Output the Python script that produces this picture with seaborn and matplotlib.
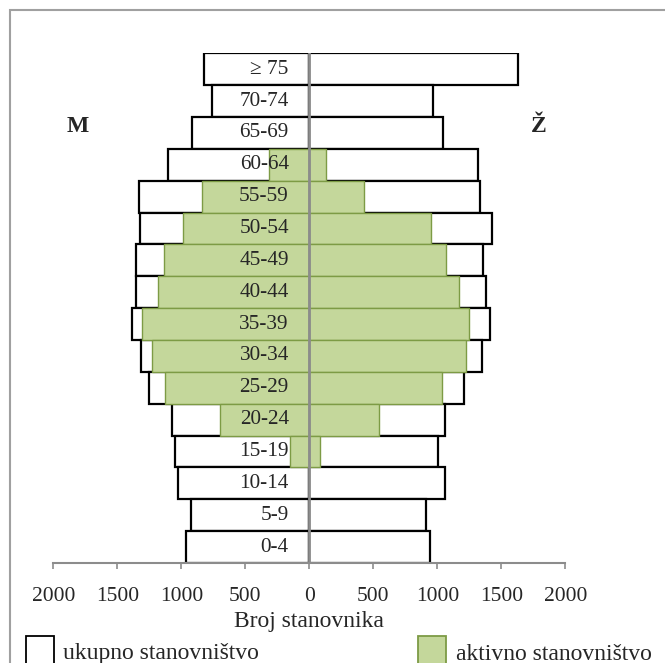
import numpy as np
import pandas as pd
import seaborn as sns
import matplotlib.pyplot as plt
from matplotlib.patches import Rectangle

# age groups, top to bottom
ages = ["\u2265 75", "70-74", "65-69", "60-64", "55-59", "50-54", "45-49", "40-44",
        "35-39", "30-34", "25-29", "20-24", "15-19", "10-14", "5-9", "0-4"]

# total population (ukupno)
male_total = [822, 757, 920, 1107, 1330, 1320, 1354, 1351, 1387, 1315, 1250, 1076, 1050, 1027, 928, 965]
female_total = [1628, 967, 1045, 1317, 1330, 1429, 1356, 1382, 1408, 1348, 1211, 1063, 1003, 1063, 913, 941]

# active population (aktivno)
male_active = [0, 0, 0, 316, 835, 983, 1133, 1180, 1304, 1226, 1128, 695, 150, 0, 0, 0]
female_active = [0, 0, 0, 132, 430, 949, 1071, 1169, 1250, 1224, 1037, 544, 86, 0, 0, 0]

xticks = [-2000, -1500, -1000, -500, 0, 500, 1000, 1500, 2000]

GREEN = "#c4d79b"
GREEN_EDGE = "#7d9b45"
GRAY = "#8c8c8c"

sns.set_style("white")
plt.rcParams["font.family"] = ["Liberation Serif", "DejaVu Serif"]

W, H = 665, 663
fig = plt.figure(figsize=(W / 100, H / 100), dpi=100)
ax = fig.add_axes([53.3 / W, (H - 563) / H, 512 / W, 509.7 / H])

total = pd.DataFrame({"age": ages, "male": -np.array(male_total), "female": female_total})
active = pd.DataFrame({"age": ages, "male": -np.array(male_active), "female": female_active})

for side in ["male", "female"]:
    sns.barplot(data=total, x=side, y="age", order=ages, orient="h", color="white",
                edgecolor="black", linewidth=1.6, width=1.0, saturation=1, ax=ax)

for side in ["male", "female"]:
    d = active[active[side] != 0]
    sns.barplot(data=d, x=side, y="age", order=ages, orient="h", color=GREEN,
                edgecolor=GREEN_EDGE, linewidth=1.0, width=1.0, saturation=1, ax=ax)

ax.axvline(0, color=GRAY, lw=2, zorder=5)

for i, a in enumerate(ages):
    ax.text(-160, i, a, ha="right", va="center", fontsize=15.3, zorder=6)

ax.set_xlim(-2000, 2000)
ax.set_ylim(len(ages) - 0.5, -0.5)
ax.set_xticks(xticks)
ax.set_xticklabels([str(abs(t)) for t in xticks])
ax.set_yticks([])
ax.set_ylabel("")
ax.set_xlabel("Broj stanovnika", fontsize=17, labelpad=4)
ax.tick_params(axis="x", direction="out", length=4.5, width=1.2, color=GRAY,
               labelsize=15.5, pad=12.5, bottom=True)
for s in ["top", "left", "right"]:
    ax.spines[s].set_visible(False)
ax.spines["bottom"].set_color(GRAY)
ax.spines["bottom"].set_linewidth(1.5)

fig.text(78 / W, 1 - 127 / H, "M", ha="center", va="center", fontsize=17, fontweight="bold")
fig.text(539 / W, 1 - 127 / H, "\u017d", ha="center", va="center", fontsize=17, fontweight="bold")

# outer frame (cut at right and bottom)
fig.patches.append(Rectangle((9.5 / W, -0.1), 1.2, 1 - 10.5 / H + 0.1, transform=fig.transFigure,
                             fill=False, edgecolor="#a0a0a0", lw=1.5))

# legend
fig.patches.append(Rectangle((25.5 / W, -0.05), 28 / W, (H - 636) / H + 0.05, transform=fig.transFigure,
                             facecolor="white", edgecolor="black", lw=1.3))
fig.text(63 / W, 1 - 654 / H, "ukupno stanovni\u0161tvo", ha="left", va="center", fontsize=17)
fig.patches.append(Rectangle((417.5 / W, -0.05), 28 / W, (H - 636) / H + 0.05, transform=fig.transFigure,
                             facecolor=GREEN, edgecolor=GREEN_EDGE, lw=1.3))
fig.text(456 / W, 1 - 654 / H, "aktivno stanovni\u0161tvo", ha="left", va="center", fontsize=17)

fig.savefig("out.png", dpi=100)
